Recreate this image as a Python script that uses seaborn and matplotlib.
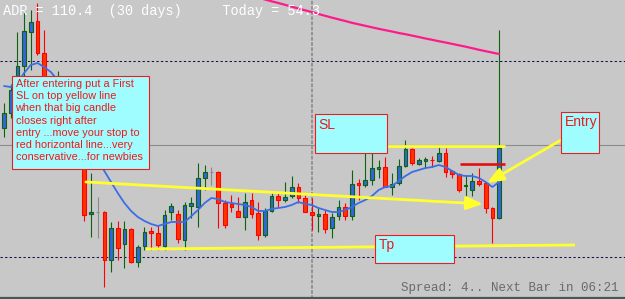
import numpy as np
import pandas as pd
import matplotlib
matplotlib.use("Agg")
import matplotlib.pyplot as plt
from matplotlib.patches import Rectangle
import seaborn as sns

# ---------------- data (chart levels, measured top-down: smaller = higher price) ----------------
opens = [128, 113, 80, 66, 32, 21, 53, 100, 135, 110, 140, 158, 145, 214, 212, 212, 260, 228, 244, 229,
         262, 246, 231, 233, 246, 212, 214, 240, 206, 207, 178, 172, 172, 203, 204, 211, 217, 200, 213, 235,
         211, 196, 200, 196, 187, 198, 212, 216, 214, 228, 216, 207, 216, 183, 185, 180, 169, 167, 187, 183,
         166, 149, 164, 161, 159.5, 161, 153, 171, 174, 186, 190, 181, 183, 208, 218]
closes = [113, 90, 66, 31, 22, 53, 100, 130, 110, 140, 150, 145, 215, 212, 212, 260, 228, 248, 229, 262,
          247, 232, 233, 245, 215, 206, 239, 205, 203, 178, 172, 172, 203, 225, 207, 217, 202, 214, 235, 211,
          196, 200, 197, 187, 198, 212, 215, 214, 229, 217, 207, 216, 184, 185, 180, 168, 167, 187, 184, 166,
          149, 163, 160, 159, 160, 153, 172, 174, 190, 185, 181, 184, 208, 218, 148]
highs = [103, 84, 32, 10, 10, 3, 30, 95, 71, 105, 130, 130, 140, 173, 197, 211, 222, 221, 221, 228,
         245, 227, 227, 225, 210, 203, 210, 202, 197, 163, 165, 167, 171, 200, 195, 197, 193, 193, 202, 208,
         193, 193, 182, 176, 183, 195, 198, 207, 210, 213, 200, 203, 170, 179, 153, 153, 160, 157, 173, 159,
         140, 148, 158, 157, 156, 147, 148, 170, 173, 175, 173, 168, 182, 207, 30]
lows = [137, 118, 88, 80, 70, 55, 110, 140, 145, 150, 160, 162, 221, 237, 238, 287, 272, 260, 268, 263,
        267, 250, 250, 250, 250, 220, 243, 250, 218, 227, 190, 185, 228, 228, 212, 217, 230, 218, 240, 237,
        212, 207, 202, 198, 203, 212, 230, 232, 233, 238, 220, 220, 220, 200, 187, 185, 178, 187, 195, 185,
        167, 165, 165, 168, 167, 162, 177, 178, 192, 196, 196, 186, 213, 243, 219]
ma_fast = [86, 87, 83, 73, 65, 63, 67, 72, 80, 92, 105, 120, 138, 150, 160, 171, 182, 193, 203, 211,
           217, 221, 224, 226, 224, 222, 222, 222, 216, 210, 203, 198, 199, 202, 203, 204, 205, 207, 211, 211,
           209, 208, 207, 205, 202, 204, 205, 208, 210, 212, 212, 210, 207, 203, 200, 196, 190, 187, 186, 181,
           176, 172, 170, 168, 167, 165, 167, 171, 175, 176, 176, 178, 182, 187, 182]
ma_slow_first = 38
ma_slow = [-2.5, -0.5, 1.3, 3, 4.8, 6.7, 8.5, 10.3, 12, 14, 15.8, 17.6, 19.3, 21, 22.8, 24.3, 25.8, 27.3,
           28.8, 30.2, 31.5, 33, 34.2, 35.6, 37, 38.5, 39.8, 41.2, 42.5, 43.9, 45.3, 46.7, 48.2, 49.8,
           51.2, 52.6, 54]

header_text = "ADR = 110.4  (30 days)     Today = 54.3"
footer_text = "Spread: 4.. Next Bar in 06:21"
note_lines = ["After entering put a First", "SL on top yellow line", "when that big candle",
              "closes right after", "entry ...move your stop to", "red horizontal line...very",
              "conservative...for newbies"]

# ---------------- layout / style ----------------
W, H = 625, 299
X0, DX = 4.0, 6.69            # pixel of first candle, candle spacing in pixels
BG = '#c8c8c8'
UP_FILL, UP_EDGE = '#3366dd', '#0b640b'
DN_FILL, DN_EDGE = '#ff3300', '#ff0000'
DOJI = '#8a8a8a'
YEL = '#ffff30'
BOX_FILL, BOX_EDGE, BOX_TXT = '#9ffcff', '#ee1c1c', '#f01818'

sns.set_style("white")
plt.rcParams['font.family'] = ['Liberation Sans', 'DejaVu Sans']


def px2i(px):
    return (px - X0) / DX


fig = plt.figure(figsize=(W / 100, H / 100), dpi=100)
fig.patch.set_facecolor(BG)
ax = fig.add_axes([0, 0, 1, 1])
ax.set_facecolor(BG)

df = pd.DataFrame(dict(o=opens, h=highs, l=lows, c=closes))
df['i'] = np.arange(len(df))
up = df[df.c < df.o]
dn = df[df.c > df.o]
dj = df[df.c == df.o]

# grid / separators
for lvl in (61, 257):
    ax.axhline(lvl, color='#10104a', lw=0.75, dashes=(2.2, 2.2), zorder=1)
ax.axhline(144.5, color='#8c8c8c', lw=0.8, zorder=1)
ax.axvline(px2i(312), color='#8a8a8a', lw=1.2, dashes=(2.2, 0.9), zorder=1)

# candles
ax.vlines(up.i, up.h, up.l, color=UP_EDGE, lw=0.8, zorder=2)
ax.vlines(dn.i, dn.h, dn.l, color=DN_EDGE, lw=0.8, zorder=2)
ax.vlines(dj.i, dj.h, dj.l, color=DOJI, lw=0.8, zorder=2)
ax.bar(up.i, up.c - up.o, bottom=up.o, width=0.55, color=UP_FILL, edgecolor=UP_EDGE, linewidth=0.8, zorder=3)
ax.bar(dn.i, dn.c - dn.o, bottom=dn.o, width=0.55, color=DN_FILL, edgecolor=DN_EDGE, linewidth=0.8, zorder=3)
ax.bar(dj.i, 0.01, bottom=dj.o, width=0.55, color=DOJI, edgecolor=DOJI, linewidth=0.8, zorder=3)

# moving averages
sns.lineplot(x=df.i, y=ma_fast, ax=ax, color='#3a6ee8', lw=1.3, zorder=4)
sns.lineplot(x=np.arange(ma_slow_first, ma_slow_first + len(ma_slow)), y=ma_slow, ax=ax,
             color='#ff1a8c', lw=1.6, zorder=4)

# hand-drawn objects (pixel positions)
arrow_kw = dict(arrowstyle='-|>,head_length=1.0,head_width=0.4', color=YEL, lw=2.0,
                shrinkA=0, shrinkB=0)
ax.annotate('', xy=(px2i(483), 204), xytext=(px2i(86), 182), arrowprops=arrow_kw, zorder=5)
ax.annotate('', xy=(px2i(487), 183), xytext=(px2i(561), 140), arrowprops=arrow_kw, zorder=5)
ax.plot([px2i(146), px2i(575)], [249, 245], color=YEL, lw=2.0, zorder=5, solid_capstyle='butt')
ax.plot([px2i(330), px2i(505)], [146, 146], color=YEL, lw=2.0, zorder=5, solid_capstyle='butt')
ax.plot([px2i(460), px2i(505)], [163.5, 163.5], color='#e01010', lw=1.9, zorder=5, solid_capstyle='butt')


def box(x0, y0, x1, y1):
    ax.add_patch(Rectangle((px2i(x0), y0), (x1 - x0) / DX, y1 - y0, facecolor=BOX_FILL,
                           edgecolor=BOX_EDGE, lw=0.8, zorder=6))


box(12, 76, 149, 169)
for k, line in enumerate(note_lines):
    ax.text(px2i(15.5), 87 + 12.2 * k, line, color=BOX_TXT, fontsize=7.8, va='baseline',
            ha='left', zorder=7)
box(315, 114, 387, 153)
ax.text(px2i(318), 129, "SL", color=BOX_TXT, fontsize=10, va='baseline', zorder=7)
box(561, 112, 599, 153)
ax.text(px2i(564.5), 126, "Entry", color=BOX_TXT, fontsize=10, va='baseline', zorder=7)
box(375, 235, 454, 263)
ax.text(px2i(378.5), 248.5, "Tp", color=BOX_TXT, fontsize=10, va='baseline', zorder=7)

ax.text(px2i(3), 15.5, header_text, color='white', fontsize=9.8, family=['Liberation Mono', 'DejaVu Sans Mono'],
        va='baseline', ha='left', zorder=7)
ax.text(px2i(401), 290.5, footer_text, color='#6a6a6a', fontsize=9.0,
        family=['Liberation Mono', 'DejaVu Sans Mono'], va='baseline', ha='left', zorder=7)

# bottom frame line
ax.axhline(297.5, color='#3f5c5c', lw=1.6, zorder=8)

ax.set_xlim(px2i(0), px2i(W))
ax.set_ylim(H, 0)
ax.axis('off')
fig.savefig('out.png', dpi=100, facecolor=BG)
